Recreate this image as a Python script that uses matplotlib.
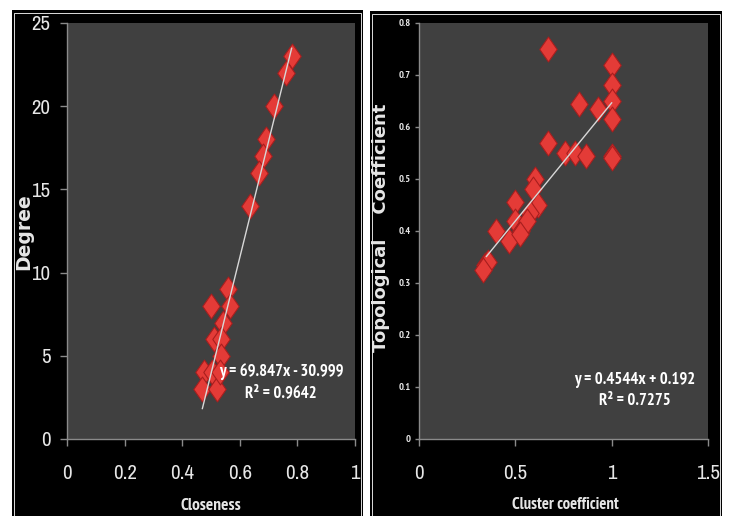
import matplotlib
matplotlib.use("Agg")
import matplotlib.pyplot as plt
from matplotlib.patches import Rectangle
from matplotlib.path import Path
from matplotlib import font_manager
from matplotlib.font_manager import FontProperties
import numpy as np

# ---- pick the narrowest reasonable condensed font available (Calibri-like look)
def _wt(w):
    try:
        return int(w)
    except Exception:
        return {'normal': 400, 'regular': 400, 'bold': 700}.get(str(w), 400)

def _rank(f):
    n = f.fname.lower() + ' ' + f.name.lower()
    if 'narrow' in n:
        return 0
    if 'extracondensed' in n or 'extra-condensed' in n or 'ultra' in n:
        return None
    if 'semicondensed' in n or 'semi-condensed' in n or f.stretch == 'semi-condensed':
        return 2
    if 'condensed' in n or f.stretch == 'condensed':
        return 1
    return None

cands = []
for f in font_manager.fontManager.ttflist:
    if f.style != 'normal' or 'mono' in f.name.lower():
        continue
    r = _rank(f)
    if r is not None:
        cands.append((r, f))

def pick(weight):
    best = None
    for r, f in cands:
        key = (r, abs(_wt(f.weight) - weight))
        if best is None or key < best[0]:
            best = (key, f)
    return best[1].fname if best else None

BOLD_F = pick(700)
REG_F = pick(400)
HAVE_COND = BOLD_F is not None

def fp(size, bold=True):
    if HAVE_COND:
        return FontProperties(fname=BOLD_F if bold else REG_F, size=size)
    return FontProperties(family=['Liberation Sans', 'DejaVu Sans'],
                          weight='bold' if bold else 'normal', size=size * 0.8)

# ---- data: left panel (Closeness vs Degree)
closeness = [0.78, 0.76, 0.72, 0.69, 0.68, 0.665, 0.635, 0.56, 0.565, 0.50,
             0.54, 0.51, 0.535, 0.535, 0.475, 0.505, 0.47, 0.52, 0.53]
degree = [23, 22, 20, 18, 17, 16, 14, 9, 8, 8,
          7, 6, 6, 5, 4, 4, 3, 3, 4]
fit1_slope, fit1_icpt = 69.847, -30.999
fit1_range = [0.47, 0.78]
fit1_text = "y = 69.847x - 30.999\nR\u00b2 = 0.9642"

# ---- data: right panel (Cluster coefficient vs Topological coefficient)
cluster = [0.667, 1.0, 1.0, 1.0, 1.0, 1.0, 1.0, 0.833, 0.93, 0.667,
           0.76, 0.81, 0.865, 0.60, 0.59, 0.62, 0.50, 0.575, 0.50, 0.53,
           0.40, 0.465, 0.56, 0.524, 0.34, 0.36, 0.334]
topo = [0.75, 0.72, 0.68, 0.65, 0.615, 0.545, 0.54, 0.645, 0.635, 0.57,
        0.55, 0.55, 0.545, 0.50, 0.48, 0.45, 0.455, 0.435, 0.42, 0.40,
        0.40, 0.38, 0.42, 0.395, 0.335, 0.341, 0.325]
fit2_slope, fit2_icpt = 0.4544, 0.192
fit2_range = [0.35, 1.0]
fit2_text = "y = 0.4544x + 0.192\nR\u00b2 = 0.7275"

W, H = 730, 516
fig = plt.figure(figsize=(W / 100, H / 100), dpi=100, facecolor='white')

def fx(px):
    return px / W

def fy(py):
    return 1 - py / H

# black panels
for (x0, x1, ytop) in [(12, 363, 10), (370, 722, 11)]:
    fig.patches.append(Rectangle((fx(x0), 0), fx(x1) - fx(x0), fy(ytop), transform=fig.transFigure,
                                 facecolor='black', edgecolor='none', zorder=-2))
    fig.patches.append(Rectangle((fx(x0 + 2), -0.01), fx(x1 - 2) - fx(x0 + 2), fy(ytop + 2.5) + 0.01,
                                 transform=fig.transFigure, facecolor='none',
                                 edgecolor='white', lw=0.6, zorder=-1))

diamond = Path([(0, 1), (0.7, 0), (0, -1), (-0.7, 0), (0, 1)],
               [Path.MOVETO, Path.LINETO, Path.LINETO, Path.LINETO, Path.CLOSEPOLY])

PLOT_BG = '#404040'
AX_COL = '#8a8a8a'
TXT = '#e6e6e6'
ROT_FONT = ['DejaVu Sans']

def style(ax):
    ax.set_facecolor(PLOT_BG)
    for s in ['top', 'right']:
        ax.spines[s].set_visible(False)
    for s in ['left', 'bottom']:
        ax.spines[s].set_color(AX_COL)
        ax.spines[s].set_linewidth(1.0)
    ax.tick_params(axis='both', colors=AX_COL, direction='out', length=5, width=1)

def set_labels(ax, xsize, ysize, ybold=False):
    for lab in ax.get_xticklabels():
        lab.set_fontproperties(fp(xsize, bold=False))
        lab.set_color(TXT)
    for lab in ax.get_yticklabels():
        lab.set_fontproperties(fp(ysize, bold=ybold))
        lab.set_color(TXT)

# ---- left axes
ax1 = fig.add_axes([fx(67), fy(439), fx(355) - fx(67), (439 - 23) / H])
style(ax1)
ax1.scatter(closeness, degree, marker=diamond, s=320, color='#e43b37',
            edgecolors='#a81e1e', linewidths=0.8, zorder=3)
xs = np.array(fit1_range)
ax1.plot(xs, fit1_slope * xs + fit1_icpt, color='#d8d8d8', lw=1.0, zorder=4)
ax1.set_xlim(0, 1)
ax1.set_ylim(0, 25)
ax1.set_xticks([0, 0.2, 0.4, 0.6, 0.8, 1])
ax1.set_xticklabels(['0', '0.2', '0.4', '0.6', '0.8', '1'])
ax1.set_yticks([0, 5, 10, 15, 20, 25])
ax1.set_yticklabels(['0', '5', '10', '15', '20', '25'])
ax1.tick_params(axis='x', pad=13)
ax1.tick_params(axis='y', pad=7)
set_labels(ax1, 15, 15)
ax1.text(0.744, 3.4, fit1_text, color='white', fontproperties=fp(12),
         ha='center', va='center', linespacing=1.4, zorder=5)
fig.text(fx(211), fy(506), 'Closeness', color=TXT, fontproperties=fp(12.5),
         ha='center', va='center')
fig.text(fx(24), fy(232), 'Degree', color=TXT, fontsize=13.5, fontweight='bold',
         family=ROT_FONT, ha='center', va='center', rotation=90)

# ---- right axes
ax2 = fig.add_axes([fx(419), fy(439), fx(708) - fx(419), (439 - 23) / H])
style(ax2)
ax2.scatter(cluster, topo, marker=diamond, s=320, color='#e43b37',
            edgecolors='#a81e1e', linewidths=0.8, zorder=3)
xs2 = np.array(fit2_range)
ax2.plot(xs2, fit2_slope * xs2 + fit2_icpt, color='#d8d8d8', lw=1.0, zorder=4)
ax2.set_xlim(0, 1.5)
ax2.set_ylim(0, 0.8)
ax2.set_xticks([0, 0.5, 1, 1.5])
ax2.set_xticklabels(['0', '0.5', '1', '1.5'])
ax2.set_yticks([0, 0.1, 0.2, 0.3, 0.4, 0.5, 0.6, 0.7, 0.8])
ax2.set_yticklabels(['0', '0.1', '0.2', '0.3', '0.4', '0.5', '0.6', '0.7', '0.8'])
ax2.tick_params(axis='x', pad=13)
ax2.tick_params(axis='y', pad=3, length=3)
set_labels(ax2, 15, 7.5, ybold=True)
ax2.text(1.122, 0.094, fit2_text, color='white', fontproperties=fp(12),
         ha='center', va='center', linespacing=1.4, zorder=5)
fig.text(fx(565), fy(505), 'Cluster coefficient', color=TXT, fontproperties=fp(12),
         ha='center', va='center')
fig.text(fx(381), fy(228), 'Topological    Coefficient', color=TXT, fontsize=13,
         fontweight='bold', family=ROT_FONT, ha='center', va='center', rotation=90)

fig.savefig('out.png', dpi=100, facecolor='white')
